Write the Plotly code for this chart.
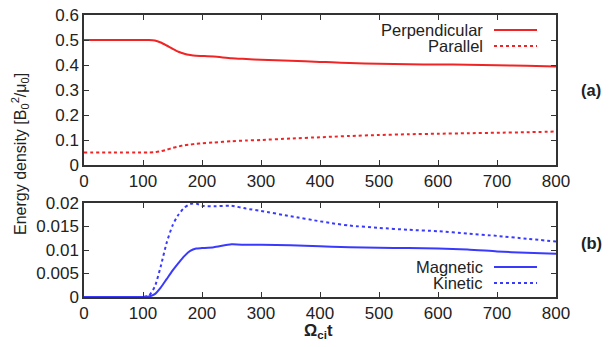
import plotly.graph_objects as go

# ---- data ----
t = [0, 50, 100, 110, 120, 130, 140, 150, 160, 170, 180, 190, 200, 220, 250, 275,
     300, 350, 400, 420, 450, 500, 550, 600, 650, 700, 750, 800]
perpendicular = [0.5, 0.5, 0.5, 0.5, 0.498, 0.49, 0.478, 0.465, 0.453, 0.445, 0.44, 0.437,
                 0.436, 0.434, 0.427, 0.424, 0.421, 0.417, 0.412, 0.411, 0.408, 0.405,
                 0.403, 0.402, 0.401, 0.399, 0.397, 0.394]
parallel = [0.05, 0.05, 0.05, 0.05, 0.051, 0.055, 0.061, 0.068, 0.074, 0.079, 0.082, 0.085,
            0.087, 0.09, 0.095, 0.098, 0.1, 0.106, 0.111, 0.113, 0.116, 0.12,
            0.123, 0.125, 0.127, 0.129, 0.131, 0.134]
magnetic = [0, 0, 0, 0.0001, 0.0006, 0.002, 0.0038, 0.0056, 0.0072, 0.0087, 0.0098, 0.0103,
            0.0104, 0.0106, 0.0112, 0.0111, 0.0111, 0.011, 0.0108, 0.0107, 0.0106, 0.0105,
            0.0104, 0.0103, 0.0101, 0.0097, 0.0094, 0.0092]
kinetic = [0, 0, 0, 0.0003, 0.0022, 0.0065, 0.0115, 0.0152, 0.0175, 0.019, 0.0198, 0.0199,
           0.0194, 0.0193, 0.0194, 0.0188, 0.0183, 0.0172, 0.0161, 0.0157, 0.0152, 0.0147,
           0.0143, 0.014, 0.0135, 0.013, 0.0124, 0.0118]

x_ticks = [0, 100, 200, 300, 400, 500, 600, 700, 800]
top_ticks = [0, 0.1, 0.2, 0.3, 0.4, 0.5, 0.6]
top_labels = ["0", "0.1", "0.2", "0.3", "0.4", "0.5", "0.6"]
bot_ticks = [0, 0.005, 0.01, 0.015, 0.02]
bot_labels = ["0", "0.005", "0.01", "0.015", "0.02"]

RED = "#f02424"
BLUE = "#3a3aff"
FONT = "Liberation Sans, Arial, sans-serif"
AX = "#333333"

W, H = 613, 347
L, R, T, B = 84, 57, 15, 50
pw, ph = W - L - R, H - T - B


def px(xp):
    return (xp - L) / pw


def py(yp):
    return (H - B - yp) / ph


fig = go.Figure()
fig.add_trace(go.Scatter(x=t, y=perpendicular, mode="lines",
                         line=dict(color=RED, width=2, shape="spline", smoothing=0.6),
                         xaxis="x", yaxis="y", showlegend=False))
fig.add_trace(go.Scatter(x=t, y=parallel, mode="lines",
                         line=dict(color=RED, width=2, dash="dot", shape="spline", smoothing=0.6),
                         xaxis="x", yaxis="y", showlegend=False))
fig.add_trace(go.Scatter(x=t, y=magnetic, mode="lines",
                         line=dict(color=BLUE, width=2, shape="spline", smoothing=0.6),
                         xaxis="x2", yaxis="y2", showlegend=False))
fig.add_trace(go.Scatter(x=t, y=kinetic, mode="lines",
                         line=dict(color=BLUE, width=2, dash="dot", shape="spline", smoothing=0.6),
                         xaxis="x2", yaxis="y2", showlegend=False))

top_dom = [py(165), 1.0]
bot_dom = [0.0, py(203)]

axis_common = dict(showline=True, linecolor=AX, linewidth=1.5, mirror="ticks", ticks="inside",
                   ticklen=5, tickcolor=AX, tickwidth=1, showgrid=False, zeroline=False,
                   tickfont=dict(family=FONT, size=17, color="#222"))

fig.update_layout(
    width=W, height=H, margin=dict(l=L, r=R, t=T, b=B, autoexpand=False),
    paper_bgcolor="white", plot_bgcolor="white",
    xaxis=dict(domain=[0, 1], anchor="y", range=[0, 800], tickvals=x_ticks, **axis_common),
    yaxis=dict(domain=top_dom, anchor="x", range=[0, 0.6], tickvals=top_ticks, ticktext=top_labels, **axis_common),
    xaxis2=dict(domain=[0, 1], anchor="y2", range=[0, 800], tickvals=x_ticks, **axis_common),
    yaxis2=dict(domain=bot_dom, anchor="x2", range=[0, 0.02], tickvals=bot_ticks, ticktext=bot_labels, **axis_common),
)

ann_font = dict(family=FONT, size=16.5, color="#222")
annotations = [
    dict(text="Energy density [B<sub>0</sub><sup>2</sup>/μ<sub>0</sub>]", textangle=-90,
         x=px(20), y=py(154), xref="paper", yref="paper", showarrow=False,
         font=dict(family=FONT, size=16, color="#222"),
         xanchor="center", yanchor="middle"),
    dict(text="<b>Ω<sub>ci</sub>t</b>", x=px(318), y=py(331), xref="paper", yref="paper",
         showarrow=False, font=ann_font, xanchor="center", yanchor="middle"),
    dict(text="<b>(a)</b>", x=px(591), y=py(90), xref="paper", yref="paper",
         showarrow=False, font=ann_font, xanchor="center", yanchor="middle"),
    dict(text="<b>(b)</b>", x=px(591), y=py(243), xref="paper", yref="paper",
         showarrow=False, font=ann_font, xanchor="center", yanchor="middle"),
]
legend_items = [("Perpendicular", 30, RED, "solid"), ("Parallel", 46, RED, "dot"),
                ("Magnetic", 267, BLUE, "solid"), ("Kinetic", 283, BLUE, "dot")]
shapes = []
for name, yy, col, dash in legend_items:
    annotations.append(dict(text=name, x=px(485), y=py(yy), xref="paper", yref="paper",
                            showarrow=False, font=ann_font, xanchor="right", yanchor="middle"))
    shapes.append(dict(type="line", xref="paper", yref="paper", x0=px(494), x1=px(537),
                       y0=py(yy), y1=py(yy), line=dict(color=col, width=2, dash=dash)))

fig.update_layout(annotations=annotations, shapes=shapes)
fig.write_html("out.html", config={"displayModeBar": False},
               post_script="document.body.style.margin='0px';")
